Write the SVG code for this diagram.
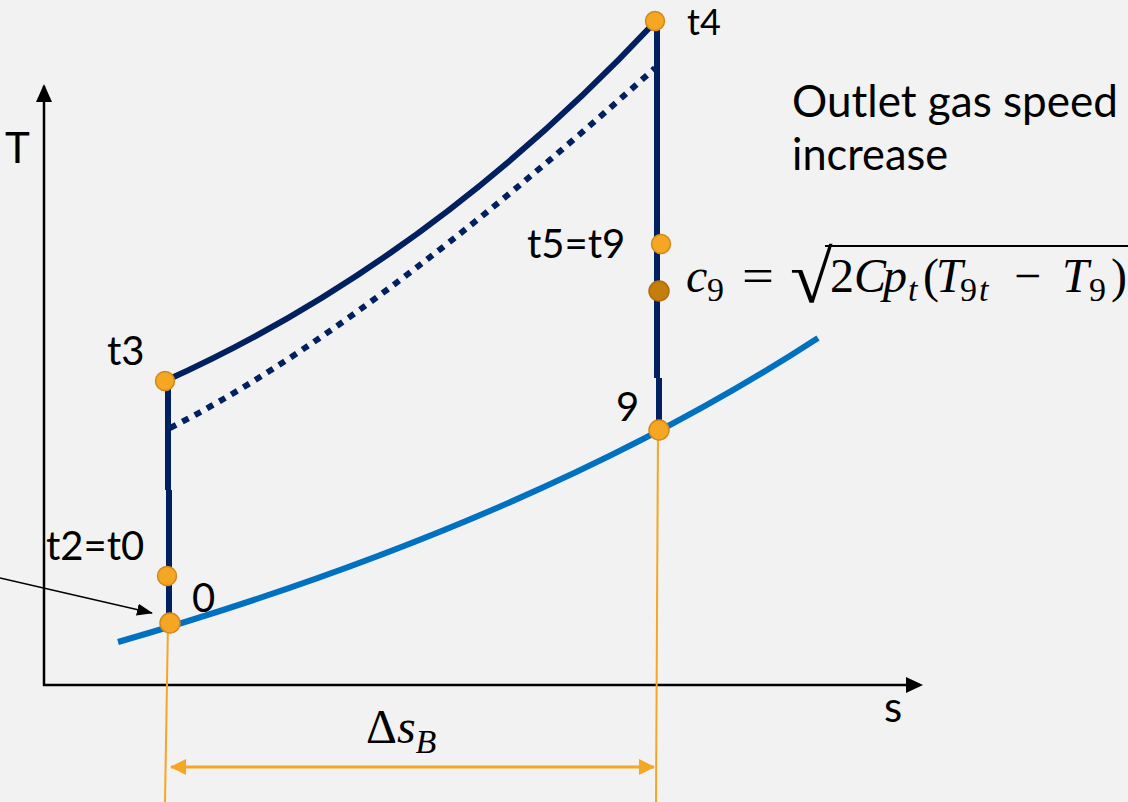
<svg xmlns="http://www.w3.org/2000/svg" width="1128" height="802" viewBox="0 0 1128 802">
<defs>
<style>
.lbl{font-family:Lato,"Open Sans","Liberation Sans",sans-serif;font-size:40px;fill:#000}
.math{font-family:"Liberation Serif","DejaVu Serif",serif;font-size:48px;fill:#000}
.sub{font-size:34px}
.mi{font-style:italic}
.navy{stroke:#002060;stroke-width:6;fill:none}
.dot{fill:#F5A623;stroke:#D4881A;stroke-width:1.5}
.oline{stroke:#F5A623;stroke-width:2;fill:none}
</style>
<marker id="blk" markerWidth="16" markerHeight="12" refX="15" refY="6" orient="auto" markerUnits="userSpaceOnUse">
<path d="M0,0 L16,6 L0,12 Z" fill="#000"/>
</marker>
<marker id="org" markerWidth="16" markerHeight="16" refX="15" refY="8" orient="auto-start-reverse" markerUnits="userSpaceOnUse">
<path d="M0,0 L16,8 L0,16 Z" fill="#F5A623"/>
</marker>
</defs>
<rect width="1128" height="802" fill="#F2F2F2"/>

<g id="axes">
<line x1="44" y1="686" x2="44" y2="86" stroke="#000" stroke-width="2.5"/>
<path d="M44,84 L36,102 L52,102 Z" fill="#000"/>
<line x1="43" y1="685" x2="920" y2="685" stroke="#000" stroke-width="2.5"/>
<path d="M923,685 L906,677 L906,693 Z" fill="#000"/>
<text class="lbl" x="5" y="163" style="font-size:42px">T</text>
<text class="lbl" x="884" y="722" style="font-size:42px">s</text>
</g>

<g id="connectors">
<path id="isobar-low" d="M118,642 C350,575 600,480 818,338" stroke="#0070C0" stroke-width="6" fill="none"/>
<path id="comp" class="navy" d="M168,381 L168,490 M169,490 L169,623"/>
<path id="combustion" class="navy" d="M165,381 Q430,262 655,22"/>
<path id="combustion-ideal" class="navy" stroke-dasharray="7 7" d="M170,428 Q361,332 655,68"/>
<path id="expansion" class="navy" d="M657,22 L657,378 M659,378 L659,430"/>
<line class="oline" x1="168" y1="623" x2="165" y2="802"/>
<line class="oline" x1="658" y1="430" x2="656" y2="802"/>
<line x1="171" y1="767" x2="654" y2="767" stroke="#F5A623" stroke-width="3" marker-start="url(#org)" marker-end="url(#org)"/>
<line x1="0" y1="578" x2="152" y2="613" stroke="#000" stroke-width="1.5" marker-end="url(#blk)"/>
</g>

<g id="node-t4"><circle class="dot" cx="655" cy="21" r="9.5"/><text class="lbl" x="687" y="35" style="font-size:36px">t4</text></g>
<g id="node-t3"><circle class="dot" cx="165" cy="381" r="9.5"/><text class="lbl" x="107" y="365">t3</text></g>
<g id="node-t2"><circle class="dot" cx="167" cy="576" r="9.5"/><text class="lbl" x="46" y="560">t2=t0</text></g>
<g id="node-0"><circle class="dot" cx="170" cy="623" r="10"/><text class="lbl" x="192" y="612">0</text></g>
<g id="node-t5"><circle class="dot" cx="661" cy="244" r="9.5"/><text class="lbl" x="527" y="258">t5=t9</text></g>
<g id="node-c9"><circle cx="659" cy="291" r="10" fill="#C57D0C" stroke="#B06E0A" stroke-width="1.5"/></g>
<g id="node-9"><circle class="dot" cx="659" cy="430" r="10"/><text class="lbl" x="616" y="421">9</text></g>

<g id="note">
<text class="lbl" x="792" y="117" style="font-size:44px" textLength="326" lengthAdjust="spacingAndGlyphs">Outlet gas speed</text>
<text class="lbl" x="792" y="170" style="font-size:44px" textLength="156" lengthAdjust="spacingAndGlyphs">increase</text>
</g>

<g id="formula">
<text class="math"><tspan class="mi" x="686" y="292">c</tspan><tspan class="sub" x="707" y="301">9</tspan><tspan x="742" y="292" textLength="32" lengthAdjust="spacingAndGlyphs">=</tspan><tspan x="830" y="292">2</tspan><tspan class="mi" x="854" y="292">C</tspan><tspan class="mi" x="883" y="292">p</tspan><tspan class="sub mi" x="908" y="301">t</tspan><tspan x="923" y="292">(</tspan><tspan class="mi" x="936" y="292">T</tspan><tspan class="sub" x="960" y="301">9</tspan><tspan class="sub mi" x="979" y="301">t</tspan><tspan x="1014" y="292">−</tspan><tspan class="mi" x="1062" y="292">T</tspan><tspan class="sub" x="1089" y="301">9</tspan><tspan x="1111" y="292">)</tspan></text>
<text class="math" transform="translate(790,302) scale(1.05,1)" x="0" y="0" style="font-size:74px">√</text>
<line x1="825" y1="246" x2="1128" y2="246" stroke="#000" stroke-width="2"/>
</g>

<g id="dim-label">
<text class="math" x="366" y="743">Δ<tspan class="mi">s</tspan><tspan class="sub mi" dy="10">B</tspan></text>
</g>
</svg>
